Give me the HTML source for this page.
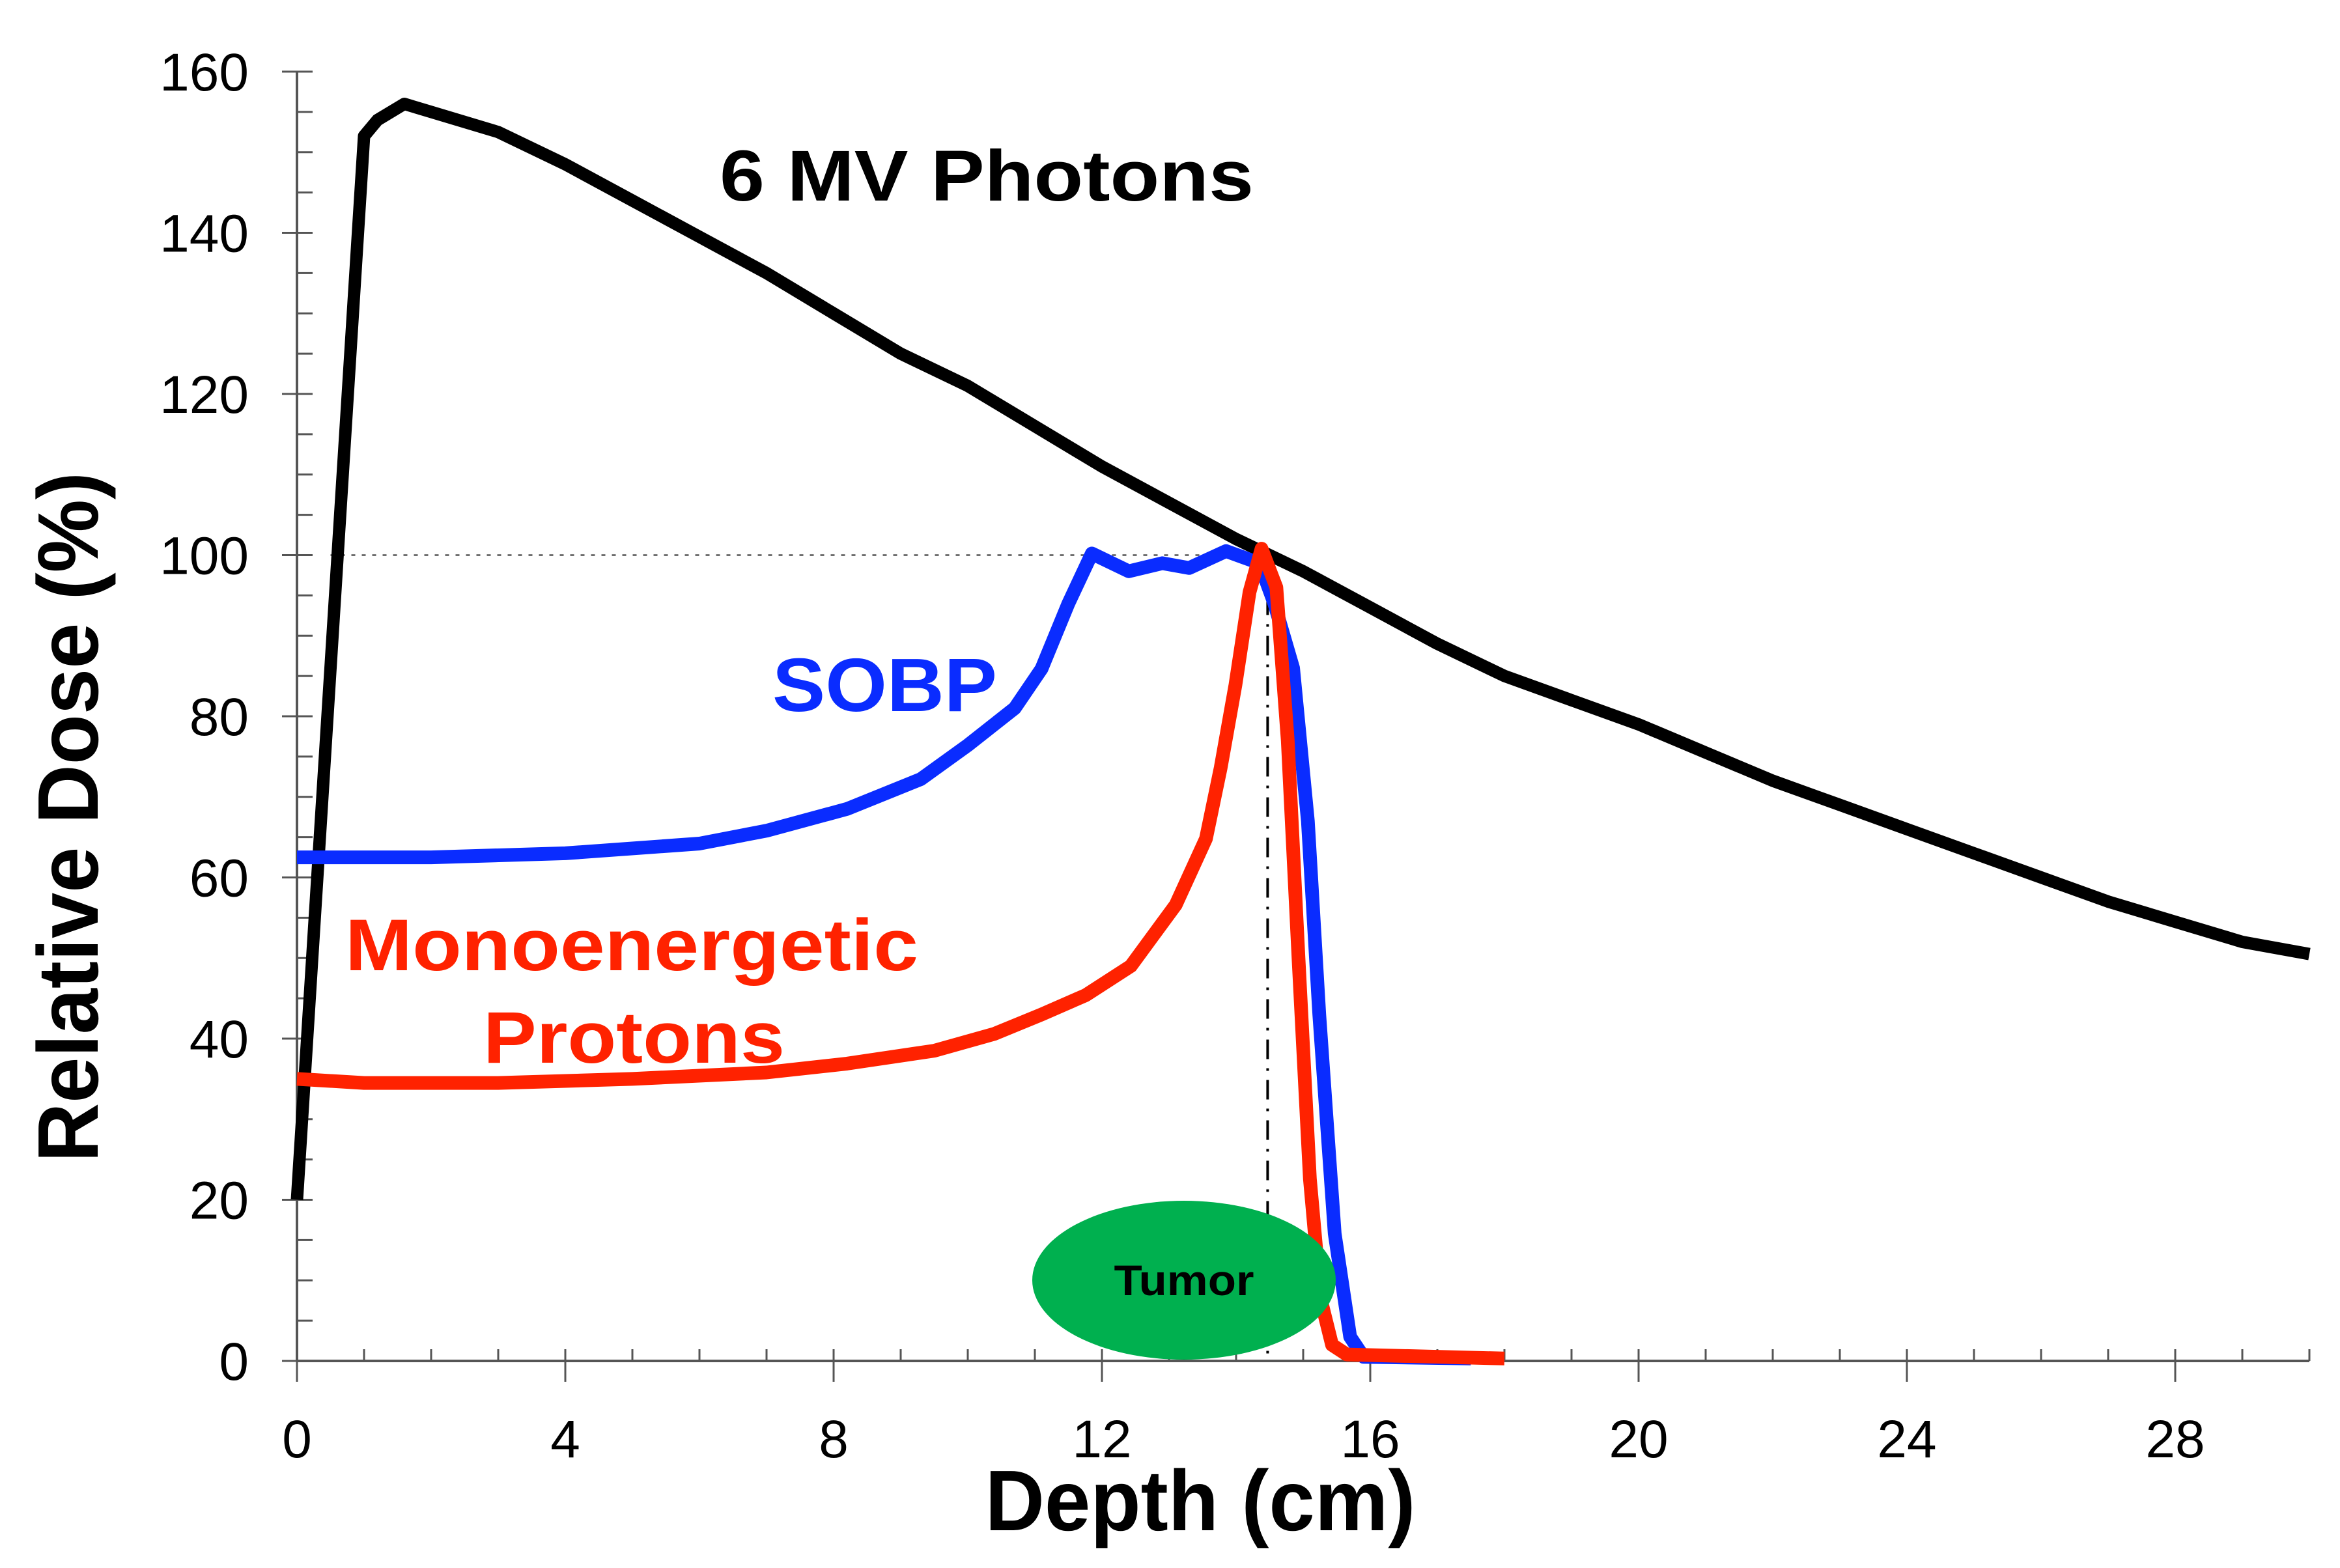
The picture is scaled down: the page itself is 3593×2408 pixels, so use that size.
<!DOCTYPE html>
<html><head><meta charset="utf-8"><style>
html,body{margin:0;padding:0;background:#fff}
svg{display:block}
</style></head><body>
<svg id="chart" width="3593" height="2408" viewBox="0 0 3593 2408" xmlns="http://www.w3.org/2000/svg" font-family="Liberation Sans, sans-serif">
<g id="axes"></g>
<g id="series"></g>
<ellipse cx="1818" cy="1966" rx="233" ry="122" fill="#00b04f"/>
<text x="1818" y="1989" font-size="66" font-weight="bold" text-anchor="middle" fill="#000" textLength="215" lengthAdjust="spacingAndGlyphs">Tumor</text>
<text x="1105" y="308" font-size="110" font-weight="bold" fill="#000" textLength="820" lengthAdjust="spacingAndGlyphs">6 MV Photons</text>
<text x="1186" y="1092" font-size="116" font-weight="bold" fill="#0a2cff" textLength="345" lengthAdjust="spacingAndGlyphs">SOBP</text>
<text x="530" y="1490" font-size="112" font-weight="bold" fill="#ff2200" textLength="880" lengthAdjust="spacingAndGlyphs">Monoenergetic</text>
<text x="742" y="1632" font-size="112" font-weight="bold" fill="#ff2200" textLength="463" lengthAdjust="spacingAndGlyphs">Protons</text>
<text x="1843" y="2350" font-size="132" font-weight="bold" text-anchor="middle" textLength="661" lengthAdjust="spacingAndGlyphs">Depth (cm)</text>
<text transform="translate(150,1255) rotate(-90)" font-size="132" font-weight="bold" text-anchor="middle" textLength="1060" lengthAdjust="spacingAndGlyphs">Relative Dose (%)</text>
</svg>
<script>
const xTicks=[0,4,8,12,16,20,24,28];
const yTicks=[0,20,40,60,80,100,120,140,160];
const photonX=[0,1,1.2,1.6,2,3,4,5,6,7,8,9,10,11,12,13,14,15,16,17,18,19,20,21,22,23,24,25,26,27,28,29,30];
const photonY=[20,152,154,156,155,152.5,148.5,144,139.5,135,130,125,121,116,111,106.5,102,98,93.5,89,85,82,79,75.5,72,69,66,63,60,57,54.5,52,50.5];
const sobpX=[0,2,4,6,7,8.2,9.3,10,10.7,11.1,11.5,11.85,12.4,12.9,13.3,13.85,14.35,14.57,14.85,15.07,15.24,15.47,15.7,15.9,17.5];
const sobpY=[62.5,62.5,63,64.2,65.8,68.5,72.2,76.4,81,85.9,94,100.2,98,99,98.4,100.5,99,94,86,67,43,15.8,3,0.5,0.3];
const monoX=[0,1,3,5,7,8.2,9.5,10.4,11.1,11.76,12.43,13.1,13.55,13.77,13.99,14.2,14.38,14.6,14.77,14.93,15.1,15.26,15.43,15.65,18];
const monoY=[35,34.5,34.5,35,35.8,36.9,38.5,40.6,43,45.4,49,56.6,64.8,73.6,83.9,95.4,100.8,96,77,50,22.6,7.7,2,0.8,0.3];
const refDepth=14.47, refDose=100, refStart=0.5;

const X0=456,XS=103,Y0=2090,YS=(2090-110)/160;
const sx=v=>X0+v*XS, sy=v=>Y0-v*YS;
const NS="http://www.w3.org/2000/svg";
function mk(tag,attrs,parent){const e=document.createElementNS(NS,tag);for(const k in attrs)e.setAttribute(k,attrs[k]);parent.appendChild(e);return e;}
const ax=document.getElementById('axes'), se=document.getElementById('series');

let e=mk('line',{x1:sx(0),y1:sy(0),x2:sx(30),y2:sy(0),stroke:'#555','stroke-width':4},ax);


e=mk('line',{x1:sx(0),y1:sy(0),x2:sx(0),y2:sy(160),stroke:'#555','stroke-width':4},ax);


for(let v=0;v<=30;v++){
  const maj=v%4===0;
  e=mk('line',{x1:sx(v),y1:sy(0)-18,x2:sx(v),y2:maj?sy(0)+32:sy(0),stroke:'#555','stroke-width':3},ax);
  
  
}
for(let v=0;v<=160;v+=5){
  const maj=v%20===0;
  e=mk('line',{x1:maj?sx(0)-23:sx(0),y1:sy(v),x2:sx(0)+24,y2:sy(v),stroke:'#555','stroke-width':3},ax);
  
  
}
xTicks.forEach(v=>{
  const t=mk('text',{x:sx(v),y:2238,'font-size':82,'text-anchor':'middle',fill:'#000'},ax);
  t.textContent=v;
  
  
});
yTicks.forEach(v=>{
  const t=mk('text',{x:382,y:sy(v)+29,'font-size':82,'text-anchor':'end',fill:'#000'},ax);
  t.textContent=v;
  
  
});
e=mk('line',{x1:sx(refStart),y1:sy(refDose),x2:sx(refDepth),y2:sy(refDose),stroke:'#555','stroke-width':2.5,'stroke-dasharray':'6 10'},se);


e=mk('line',{x1:sx(refDepth),y1:sy(refDose),x2:sx(refDepth),y2:sy(0),stroke:'#000','stroke-width':4,'stroke-dasharray':'30 14 4 14'},se);


function path(xs,ys){return xs.map((x,i)=>(i?'L':'M')+sx(x).toFixed(1)+','+sy(ys[i]).toFixed(1)).join('');}
e=mk('path',{d:path(photonX,photonY),fill:'none',stroke:'#000','stroke-width':19,'stroke-linejoin':'round'},se);


e=mk('path',{d:path(sobpX,sobpY),fill:'none',stroke:'#0a2cff','stroke-width':21,'stroke-linejoin':'round'},se);


e=mk('path',{d:path(monoX,monoY),fill:'none',stroke:'#ff2200','stroke-width':21,'stroke-linejoin':'round'},se);


</script>
</body></html>
